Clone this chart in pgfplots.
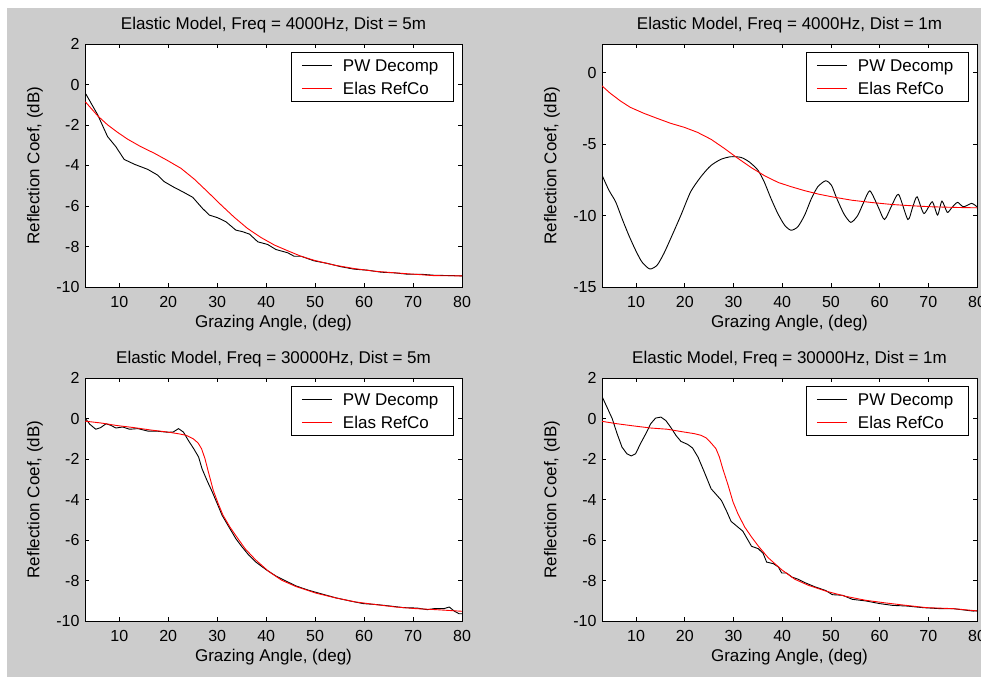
\documentclass[border=0pt]{standalone}
\usepackage{fontspec}
\setmainfont{Liberation Sans}
\usepackage{pgfplots}
\pgfplotsset{compat=1.18}
\definecolor{figgray}{RGB}{204,204,204}

\newcommand\lblfont{\fontsize{17}{20}\selectfont}

\pgfplotsset{
  refl/.style={
    scale only axis, width=377pt, height=243pt,
    xmin=3, xmax=80, xtick={10,20,...,80},
    axis background/.style={fill=white},
    axis line style={line width=0.8pt},
    tick align=inside, major tick length=4pt,
    every tick/.style={black, line width=0.8pt},
    tick label style={font=\fontsize{16}{18}\selectfont},
    /pgf/number format/assume math mode=true,
    xticklabel style={anchor=center, yshift=-15pt},
    yticklabel style={anchor=east, xshift=-2pt},
    % the default title style shifts up by 6pt; shifts add up, so cancel it
    title style={at={(axis description cs:0.5,1.078)}, anchor=center, yshift=-6pt, font=\lblfont},
    xlabel style={at={(axis description cs:0.5,-0.148)}, anchor=center, font=\lblfont},
    ylabel style={at={(axis description cs:-0.1326,0.5)}, anchor=center, font=\lblfont},
    xlabel={Grazing Angle, (deg)},
    ylabel={Reflection Coef, (dB)},
    legend style={at={(axis description cs:1,1)}, anchor=north east,
      xshift=-8pt, yshift=-8pt, draw=black, line width=0.8pt,
      font=\lblfont, cells={anchor=west},
      inner xsep=9.7pt, inner ysep=1.7pt, column sep=10.6pt,
      nodes={inner xsep=0pt, inner ysep=0pt, text height=17.5pt, text depth=5.2pt}},
    legend image code/.code={\draw[#1] (0pt,0pt) -- (30pt,0pt);},
  },
  pw/.style={black, line width=0.9pt},
  er/.style={red, line width=0.9pt},
}
\newcommand\pwname{PW Decomp\hspace*{5.5pt}}

\begin{document}
\begin{tikzpicture}
\useasboundingbox (0,0) rectangle (981pt,677pt);
\clip (0,0) rectangle (981pt,677pt);
\fill[white] (0,0) rectangle (981pt,677pt);
\fill[figgray] (7pt,0) rectangle (981pt,669pt);

% top left
\begin{axis}[refl, at={(85pt,390pt)}, anchor=south west,
  ymin=-10, ymax=2, ytick={-10,-8,...,2},
  title={Elastic Model, Freq = 4000Hz, Dist = 5m}]
\addplot[pw] coordinates {
 (3,-0.45) (3.2,-0.48) (5.6,-1.5) (7.6,-2.57) (9.3,-3.07) (11,-3.7) (13.1,-3.94)
 (15.8,-4.19) (17.8,-4.47) (19.2,-4.8) (21.2,-5.08) (22.9,-5.29) (25,-5.57)
 (27,-6.12) (28.4,-6.45) (30.1,-6.58) (31.8,-6.78) (33.8,-7.19) (35.2,-7.27)
 (36.6,-7.39) (38.3,-7.77) (40.3,-7.9) (42,-8.15) (44.4,-8.31) (45.7,-8.48)
 (47.1,-8.48) (49.8,-8.71) (52.6,-8.84) (55.3,-9.0) (58,-9.12) (60.7,-9.17)
 (63.5,-9.27) (66.2,-9.3) (68.9,-9.37) (71.6,-9.37) (74.3,-9.42) (80,-9.45)
};
\addlegendentry{\pwname}
\addplot[er] coordinates {
 (3,-0.86) (3.2,-0.89) (5.6,-1.55) (7.6,-1.99) (9.7,-2.37) (11.7,-2.7) (14.4,-3.07)
 (17.2,-3.4) (19.9,-3.76) (22.6,-4.14) (25.3,-4.67) (28,-5.29) (30.8,-5.95)
 (33.5,-6.56) (36.2,-7.11) (38.9,-7.55) (41.7,-7.93) (44.4,-8.21) (47.1,-8.48)
 (49.8,-8.68) (53.9,-8.92) (58,-9.09) (62.1,-9.22) (66.2,-9.3) (70.3,-9.37)
 (74.3,-9.44) (80,-9.45)
};
\addlegendentry{Elas RefCo}
\end{axis}

% top right
\begin{axis}[refl, at={(602pt,390pt)}, anchor=south west, width=375pt,
  ylabel style={at={(axis description cs:-0.1333,0.5)}},
  ymin=-15, ymax=2, ytick={-15,-10,-5,0},
  title={Elastic Model, Freq = 4000Hz, Dist = 1m}]
\addplot[pw, smooth, tension=0.4] coordinates {
 (3,-7.17) (4.4,-8.22) (5.8,-9.04) (7.1,-10.2) (8.5,-11.38) (9.9,-12.43)
 (11.2,-13.25) (12.8,-13.74) (14.3,-13.48) (15.7,-12.66) (17.4,-11.38)
 (19.2,-9.98) (21.2,-8.34) (23.3,-7.29) (25.3,-6.52) (27.4,-6.07) (29.4,-5.89)
 (31.5,-5.93) (33.2,-6.24) (35,-6.82) (36.3,-7.64) (37.7,-8.81) (39.1,-9.86)
 (40.5,-10.68) (41.8,-11.03) (43.2,-10.79) (44.6,-9.98) (46,-8.81) (47.3,-7.99)
 (48.9,-7.57) (50.1,-7.87) (51.2,-8.8) (52.7,-9.9) (54.1,-10.48) (55.5,-10.0)
 (56.7,-9.1) (58.0,-8.27) (59.7,-9.39) (61.0,-10.28) (62.5,-9.3) (63.9,-8.52)
 (65.8,-10.28) (66.8,-9.4) (67.7,-8.69) (69.1,-9.86) (70.8,-9.04) (71.9,-9.97)
 (72.8,-8.99) (73.9,-9.78) (74.8,-9.46) (76.0,-9.08) (77.2,-9.39) (78.9,-9.15)
 (80,-9.39)
};
\addlegendentry{\pwname}
\addplot[er] coordinates {
 (3,-0.93) (4.7,-1.45) (6.8,-1.99) (8.8,-2.43) (11.6,-2.85) (14.3,-3.2)
 (17.1,-3.55) (19.9,-3.83) (22.6,-4.18) (25.4,-4.67) (28.1,-5.3) (30.9,-6.0)
 (33.7,-6.66) (36.4,-7.22) (39.2,-7.69) (41.9,-7.99) (44.7,-8.27) (47.4,-8.5)
 (50.2,-8.69) (54.3,-8.93) (58.4,-9.09) (62.6,-9.23) (66.7,-9.32) (70.8,-9.39)
 (76.4,-9.44) (80,-9.46)
};
\addlegendentry{Elas RefCo}
\end{axis}

% bottom left
\begin{axis}[refl, at={(85pt,56pt)}, anchor=south west,
  ymin=-10, ymax=2, ytick={-10,-8,...,2},
  title={Elastic Model, Freq = 30000Hz, Dist = 5m}]
\addplot[pw] coordinates {
 (3,0.0) (3.14,-0.02) (4,-0.29) (5.2,-0.53) (6.2,-0.45) (7.3,-0.26) (8.3,-0.34)
 (9.3,-0.47) (10.7,-0.42) (12.1,-0.53) (13.8,-0.5) (15.8,-0.62) (17.9,-0.63)
 (20,-0.68) (21,-0.67) (22.1,-0.5) (23.1,-0.67) (24.1,-1.08) (25.2,-1.49)
 (26.2,-1.9) (26.9,-2.48) (27.9,-3.05) (29,-3.63) (30,-4.2) (31,-4.78)
 (32.4,-5.36) (33.8,-5.93) (35.1,-6.35) (36.5,-6.76) (37.9,-7.09) (39.9,-7.45)
 (42,-7.78) (44,-8.02) (46.1,-8.27) (48.8,-8.49) (51.6,-8.68) (54.3,-8.86)
 (57.1,-9.01) (59.8,-9.14) (62.6,-9.19) (65.3,-9.26) (68.1,-9.34) (70.8,-9.36)
 (72.9,-9.44) (74.3,-9.39) (76.3,-9.39) (77.4,-9.31) (78.4,-9.51) (79.4,-9.64)
 (80,-9.64)
};
\addlegendentry{\pwname}
\addplot[er] coordinates {
 (3,-0.13) (6.2,-0.22) (9.6,-0.35) (13,-0.45) (16.5,-0.57) (19.9,-0.67)
 (22,-0.75) (23.7,-0.83) (25.1,-1.0) (26.1,-1.21) (26.8,-1.49) (27.5,-1.98)
 (28.2,-2.64) (29.2,-3.55) (30.2,-4.2) (31.2,-4.78) (32.6,-5.36) (34,-5.85)
 (35.7,-6.43) (37.8,-6.97) (40.5,-7.55) (43.2,-7.99) (46,-8.29) (50.1,-8.62)
 (54.2,-8.86) (58.3,-9.06) (62.4,-9.19) (66.5,-9.31) (70.6,-9.39) (74.7,-9.44)
 (80,-9.52)
};
\addlegendentry{Elas RefCo}
\end{axis}

% bottom right
\begin{axis}[refl, at={(602pt,56pt)}, anchor=south west, width=375pt,
  ylabel style={at={(axis description cs:-0.1333,0.5)}},
  ymin=-10, ymax=2, ytick={-10,-8,...,2},
  title={Elastic Model, Freq = 30000Hz, Dist = 1m}]
\addplot[pw] coordinates {
 (3,1.09) (4,0.57) (5.1,-0.01) (6.1,-0.75) (7.1,-1.41) (8.1,-1.74) (9,-1.85)
 (9.9,-1.74) (10.9,-1.24) (12,-0.75) (13,-0.26) (14,0.02) (15.1,0.07)
 (16.1,-0.1) (17.1,-0.43) (18.2,-0.84) (19.2,-1.13) (20.6,-1.28) (21.6,-1.46)
 (22.7,-1.9) (24,-2.64) (25.4,-3.47) (26.4,-3.74) (27.5,-4.04) (28.5,-4.53)
 (29.5,-5.08) (30.9,-5.36) (31.9,-5.56) (32.6,-5.85) (33.7,-6.31) (35.1,-6.43)
 (36.1,-6.67) (36.8,-7.09) (38.2,-7.17) (39.2,-7.33) (39.9,-7.63) (40.9,-7.63)
 (42,-7.83) (43.3,-7.94) (44.7,-8.11) (46.8,-8.32) (48.9,-8.49) (50.3,-8.7)
 (52.4,-8.73) (54.4,-8.93) (57.2,-9.01) (60,-9.14) (62.7,-9.23) (65.5,-9.26)
 (68.9,-9.34) (72.4,-9.39) (75.1,-9.39) (79.2,-9.51) (80,-9.5)
};
\addlegendentry{\pwname}
\addplot[er] coordinates {
 (3,-0.14) (6.1,-0.26) (9.6,-0.37) (13,-0.47) (16.4,-0.53) (19.9,-0.67)
 (22,-0.75) (23.3,-0.83) (24.4,-0.96) (25.4,-1.21) (26.4,-1.49) (27.1,-1.9)
 (27.8,-2.48) (28.9,-3.3) (29.9,-4.12) (30.9,-4.7) (32.3,-5.36) (33.7,-5.85)
 (35.1,-6.3) (37.1,-6.87) (39.9,-7.47) (42.6,-7.94) (45.4,-8.24) (48.9,-8.52)
 (53,-8.78) (57.2,-8.98) (61.3,-9.11) (65.5,-9.23) (69.6,-9.34) (75.1,-9.39)
 (80,-9.5)
};
\addlegendentry{Elas RefCo}
\end{axis}
\end{tikzpicture}
\end{document}
